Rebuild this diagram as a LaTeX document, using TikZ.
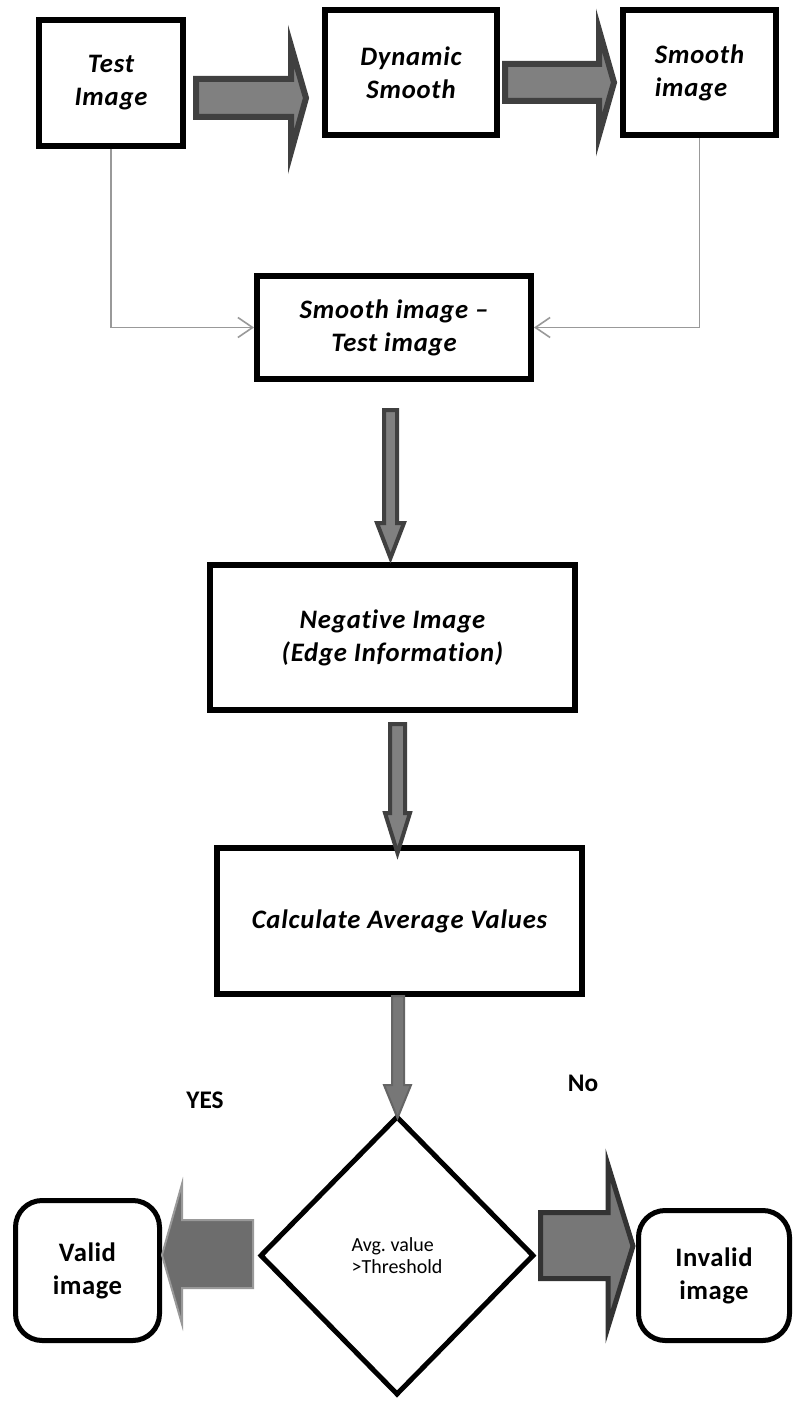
\documentclass[tikz,border=0pt]{standalone}
\usepackage{fontspec}
\setmainfont[Ligatures={NoCommon}]{Carlito}
\frenchspacing
\usetikzlibrary{arrows.meta,shapes.geometric}
\definecolor{feedgray}{HTML}{999999}
\definecolor{arrowfill}{HTML}{808080}
\definecolor{arrowdark}{HTML}{404040}
\definecolor{arrowmid}{HTML}{777777}
\begin{document}
\begin{tikzpicture}[x=0.75pt,y=-0.75pt,
  box/.style={draw=black, line width=4.5pt, fill=white, inner sep=0pt, align=center,
    font=\fontsize{20}{24.75}\selectfont\bfseries\itshape\addfontfeature{LetterSpace=3}},
  endbox/.style={draw=black, line width=3.75pt, rounded corners=20pt, fill=white, inner sep=0pt,
    align=center, font=\fontsize{20}{24.75}\selectfont\bfseries\addfontfeature{LetterSpace=2}},
  decision/.style={diamond, draw=black, line width=3.75pt, fill=white, inner sep=0pt, align=left,
    font=\fontsize{15}{16.5}\selectfont},
  label/.style={font=\fontsize{19}{22}\selectfont\bfseries},
  feed/.style={draw=feedgray, line width=1.2pt, -{Straight Barb[length=11pt,width=15pt,line width=1.2pt]}},
  bigarrow/.style={fill=arrowfill, draw=arrowdark, line width=4.5pt, line join=miter},
  thinarrow/.style={fill=arrowfill, draw=arrowdark, line width=3pt, line join=miter},
  paleyarrow/.style={fill=arrowmid, draw=arrowmid!85!black, line width=1.5pt, line join=miter},
  yesarrow/.style={fill=arrowmid!92!black, draw=arrowfill!80!white, line width=1.5pt, line join=miter},
  noarrow/.style={fill=arrowmid, draw=arrowdark!80!black, line width=3.75pt, line join=miter}
]
\path[fill=white] (0,0) rectangle (795,1402);
\useasboundingbox (0,0) rectangle (795,1402);

% nodes
\node[box, minimum width=108pt, minimum height=94.5pt] (test) at (111,83) {Test\\Image};
\node[box, minimum width=129pt, minimum height=93.75pt] (dyn) at (411,72.5) {Dynamic\\Smooth};
\node[box, minimum width=114.75pt, minimum height=93.75pt, align=left] (smooth) at (699.5,72.5) {Smooth\\image};
\node[box, minimum width=205.5pt, minimum height=77.25pt] (diff) at (394,327.5) {Smooth image --\\Test image};
\node[box, minimum width=273.75pt, minimum height=108.75pt] (neg) at (392.5,637.5) {Negative Image\\(Edge Information)};
\node[box, minimum width=273.75pt, minimum height=109.5pt] (calc) at (399.5,921) {Calculate Average Values};
\node[decision, minimum width=205.5pt, minimum height=209.25pt] (dec) at (397,1255.5) {Avg. value\\>Threshold};
\node[endbox, minimum width=108pt, minimum height=105pt] (valid) at (87.5,1270.5) {Valid\\image};
\node[endbox, minimum width=113.25pt, minimum height=97.5pt] (invalid) at (714,1275.5) {Invalid\\image};

\node[label] (yes) at (205,1100) {YES};
\node[label] (no) at (583,1083) {No};

% feed lines
\draw[feed] (test.south) |- (diff.west);
\draw[feed] (smooth.south) |- (diff.east);

% block arrows
\draw[bigarrow] (196,79) -- (291,79) -- (291,46) -- (306,98) -- (291,152) -- (291,117) -- (196,117) -- cycle;
\draw[bigarrow] (505,64) -- (599,64) -- (599,30) -- (614,82.5) -- (599,135) -- (599,101) -- (505,101) -- cycle;

\draw[thinarrow] (384,410) -- (397,410) -- (397,523) -- (404,523) -- (390.5,558) -- (377,523) -- (384,523) -- cycle;
\draw[thinarrow] (390,724) -- (405,724) -- (405,813) -- (410,813) -- (397.5,853) -- (385,813) -- (390,813) -- cycle;
\draw[paleyarrow] (392,996) -- (404,996) -- (404,1085) -- (411,1085) -- (397.5,1118) -- (384,1085) -- (392,1085) -- cycle;

\draw[yesarrow] (253,1220) -- (182,1220) -- (182,1184) -- (162,1255) -- (182,1324) -- (182,1288) -- (253,1288) -- cycle;
\draw[noarrow] (540.5,1212.5) -- (608,1212.5) -- (608,1165) -- (633,1246) -- (608,1327) -- (608,1278.5) -- (540.5,1278.5) -- cycle;
\end{tikzpicture}
\end{document}
